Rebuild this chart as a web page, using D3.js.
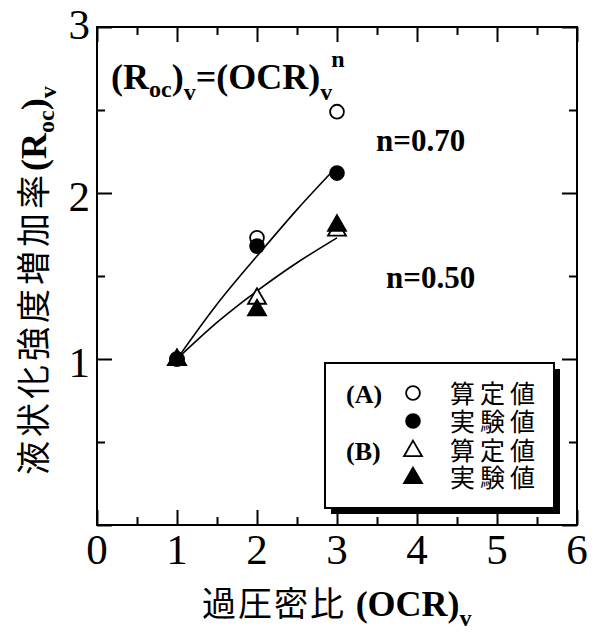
<!DOCTYPE html>
<html><head><meta charset="utf-8">
<script src="https://cdn.jsdelivr.net/npm/d3@7"></script>
<style>body{margin:0;background:#fff}svg{display:block}</style>
</head><body>
<svg id="c" width="596" height="633"></svg>
<script>
// ---- data ----
const ocr = [1, 2, 3];
const aCalc = [1.00, 1.73, 2.49];   // (A) 算定値 open circles
const aExp  = [1.00, 1.68, 2.12];   // (A) 実験値 filled circles
const bCalc = [1.00, 1.37, 1.78];   // (B) 算定値 open triangles
const bExp  = [1.00, 1.30, 1.81];   // (B) 実験値 filled triangles
const curveX   = [1, 1.5, 2, 2.5, 3];
const curveN70 = [1.00, 1.33, 1.62, 1.90, 2.16];
const curveN50 = [1.00, 1.22, 1.41, 1.58, 1.73];
const xTicks = [0, 1, 2, 3, 4, 5, 6];
const yTicks = [1, 2, 3];
const legendLabels = ["算定値", "実験値", "算定値", "実験値"];
const groupLabels = ["(A)", "(B)"];
const nLabels = ["n=0.70", "n=0.50"];

const svg = d3.select("#c");
const L = 97, R = 577, T = 27, B = 525;
const x = d3.scaleLinear().domain([0, 6]).range([L, R]);
const y = d3.scaleLinear().domain([0, 3]).range([B, T]);
const serif = "'Liberation Serif','Times New Roman',serif";
const cjk = "'Noto Sans CJK JP','Noto Sans CJK SC',sans-serif";

// frame
svg.append("rect").attr("x", L).attr("y", T).attr("width", R - L).attr("height", B - T)
  .attr("fill", "none").attr("stroke", "#000").attr("stroke-width", 2);

// ticks (inward on all sides)
const minorX = d3.range(0.5, 6, 1), minorY = d3.range(0.5, 3, 1);
function drawAxis(axis, tr) {
  svg.append("g").attr("transform", tr).call(axis)
    .call(a => a.select(".domain").remove())
    .call(a => a.selectAll("line").attr("stroke-width", 2));
}
[[d3.axisBottom, B], [d3.axisTop, T]].forEach(([mk, p]) => {
  drawAxis(mk(x).tickValues(xTicks).tickSize(-15).tickFormat(""), `translate(0,${p})`);
  drawAxis(mk(x).tickValues(minorX).tickSize(-8).tickFormat(""), `translate(0,${p})`);
});
[[d3.axisLeft, L], [d3.axisRight, R]].forEach(([mk, p]) => {
  drawAxis(mk(y).tickValues([0, 1, 2, 3]).tickSize(-15).tickFormat(""), `translate(${p},0)`);
  drawAxis(mk(y).tickValues(minorY).tickSize(-8).tickFormat(""), `translate(${p},0)`);
});

// tick labels
svg.append("g").selectAll("text").data(xTicks).join("text")
  .attr("x", d => x(d)).attr("y", 564).attr("text-anchor", "middle")
  .attr("font-family", serif).attr("font-size", 43).text(d => d);
svg.append("g").selectAll("text").data(yTicks).join("text")
  .attr("x", 90).attr("y", d => y(d) + (d === 3 ? 12 : 18)).attr("text-anchor", "end")
  .attr("font-family", serif).attr("font-size", 43).text(d => d);

// fitted curves
const line = d3.line().x(d => x(d[0])).y(d => y(d[1])).curve(d3.curveNatural);
[curveN70, curveN50].forEach(c => {
  svg.append("path").attr("d", line(curveX.map((v, i) => [v, c[i]])))
    .attr("fill", "none").attr("stroke", "#000").attr("stroke-width", 1.6);
});

// markers
const circ = d3.symbol().type(d3.symbolCircle).size(150);
const tri = d3.symbol().type(d3.symbolTriangle).size(140);
function marks(vals, sym, filled, dy) {
  svg.append("g").selectAll("path").data(vals).join("path")
    .attr("transform", (d, i) => `translate(${x(ocr[i])},${y(d) + dy})`)
    .attr("d", sym()).attr("fill", filled ? "#000" : "#fff")
    .attr("stroke", "#000").attr("stroke-width", 1.8);
}
marks(aCalc, circ, false, 0);
marks(aExp, circ, true, 0);
marks(bCalc, tri, false, 1);
marks(bExp, tri, true, 1);

// formula
const f = svg.append("text").attr("x", 111).attr("y", 89)
  .attr("font-family", serif).attr("font-weight", "bold").attr("font-size", 36);
f.append("tspan").text("(R");
f.append("tspan").attr("font-size", 24).attr("dy", 8).text("oc");
f.append("tspan").attr("dy", -8).text(")");
f.append("tspan").attr("font-size", 24).attr("dy", 11).text("v");
f.append("tspan").attr("dy", -11).text("=(OCR)");
f.append("tspan").attr("font-size", 24).attr("dy", 11).text("v");
f.append("tspan").attr("font-size", 24).attr("dy", -33).attr("dx", -1).text("n");

// n labels
svg.append("text").attr("x", 376).attr("y", 151).attr("font-family", serif)
  .attr("font-weight", "bold").attr("font-size", 31).text(nLabels[0]);
svg.append("text").attr("x", 386).attr("y", 288).attr("font-family", serif)
  .attr("font-weight", "bold").attr("font-size", 31).text(nLabels[1]);

// legend
const lx = 325, ly = 363, lw = 229, lh = 145;
svg.append("rect").attr("x", lx + 6).attr("y", ly + 6).attr("width", lw).attr("height", lh).attr("fill", "#000");
svg.append("rect").attr("x", lx).attr("y", ly).attr("width", lw).attr("height", lh)
  .attr("fill", "#fff").attr("stroke", "#000").attr("stroke-width", 2);
const rowY = [393, 421, 450, 477];
const rowSym = [[circ, false], [circ, true], [tri, false], [tri, true]];
rowSym.forEach(([s, fl], i) => {
  svg.append("path").attr("transform", `translate(413,${rowY[i] + (i > 1 ? 1 : 0)})`)
    .attr("d", s()).attr("fill", fl ? "#000" : "#fff").attr("stroke", "#000").attr("stroke-width", 1.8);
});
svg.append("g").selectAll("text").data(legendLabels).join("text")
  .attr("x", 450).attr("y", (d, i) => rowY[i] + 10)
  .attr("font-family", cjk).attr("font-size", 25).attr("letter-spacing", 5).text(d => d);
svg.append("g").selectAll("text").data(groupLabels).join("text")
  .attr("x", 346).attr("y", (d, i) => rowY[i * 2] + 10)
  .attr("font-family", serif).attr("font-weight", "bold").attr("font-size", 26).text(d => d);

// x title
const xt = svg.append("text").attr("x", 202).attr("y", 616).attr("font-size", 34);
xt.append("tspan").attr("font-family", cjk).attr("letter-spacing", 2).text("過圧密比 ");
xt.append("tspan").attr("font-family", serif).attr("font-weight", "bold").attr("font-size", 36).text("(OCR)");
xt.append("tspan").attr("font-family", serif).attr("font-weight", "bold").attr("font-size", 24).attr("dy", 10).text("v");

// y title
const yt = svg.append("text").attr("transform", "translate(46,475) rotate(-90)").attr("font-size", 34);
yt.append("tspan").attr("font-family", cjk).attr("letter-spacing", 4).text("液状化強度増加率");
yt.append("tspan").attr("font-family", serif).attr("font-weight", "bold").attr("font-size", 36).text("(R");
yt.append("tspan").attr("font-family", serif).attr("font-weight", "bold").attr("font-size", 24).attr("dy", 8).text("oc");
yt.append("tspan").attr("font-family", serif).attr("font-weight", "bold").attr("font-size", 36).attr("dy", -8).text(")");
yt.append("tspan").attr("font-family", serif).attr("font-weight", "bold").attr("font-size", 24).attr("dy", 10).text("v");
</script>
</body></html>
